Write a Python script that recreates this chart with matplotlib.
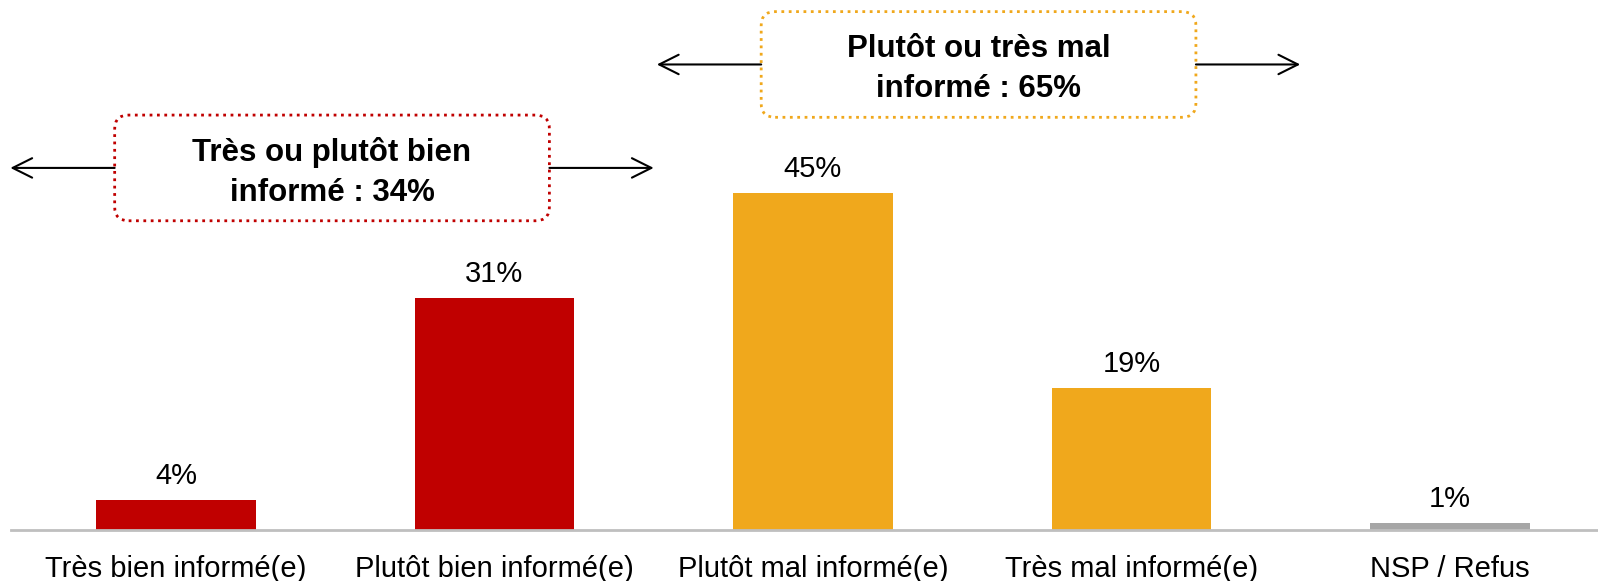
import matplotlib
matplotlib.use('Agg')
import matplotlib.pyplot as plt
from matplotlib.patches import FancyBboxPatch

plt.rcParams['font.family'] = ['Liberation Sans', 'DejaVu Sans']

categories = ['Très bien informé(e)', 'Plutôt bien informé(e)', 'Plutôt mal informé(e)',
              'Très mal informé(e)', 'NSP / Refus']
values = [4, 31, 45, 19, 1]
bar_colors = ['#C00000', '#C00000', '#F0A81C', '#F0A81C', '#A6A6A6']

group_labels = ['Très ou plutôt bien\ninformé : 34%', 'Plutôt ou très mal\ninformé : 65%']
group_spans = [(-0.52, 1.5), (1.51, 3.53)]
group_levels = [48.3, 62.1]
group_colors = ['#C00000', '#F0A81C']

fig = plt.figure(figsize=(15.98, 5.81), dpi=100)
ax = fig.add_axes([11 / 1598, 51 / 581, 1 - 11 / 1598, 530 / 581])

x = list(range(len(categories)))
ax.bar(x, values, width=0.5, color=bar_colors)

for xi, v in zip(x, values):
    ax.annotate(f'{v}%', (xi, v), textcoords='offset points', xytext=(0, 17),
                ha='center', va='center', fontsize=21)

ax.set_xlim(-0.518, 4.465)
ax.set_ylim(0, 70.7)
ax.set_xticks(x)
ax.set_xticklabels(categories, fontsize=21)
ax.tick_params(axis='x', length=0, pad=18)
ax.set_yticks([])
for side in ['top', 'right', 'left']:
    ax.spines[side].set_visible(False)
ax.spines['bottom'].set_color('#BFBFBF')
ax.spines['bottom'].set_linewidth(2)

# pixel sizes of data units, to keep round corners round
px_x = 318.5
px_y = 7.5
box_w = 1.365
box_h = 14.1

arrow = dict(arrowstyle='->,head_length=0.7,head_width=0.35', lw=1.5, color='black',
             shrinkA=0, shrinkB=0, mutation_scale=20)

for label, (x0, x1), level, col in zip(group_labels, group_spans, group_levels, group_colors):
    cx = (x0 + x1) / 2
    left = cx - box_w / 2
    right = cx + box_w / 2
    box = FancyBboxPatch((left, level - box_h / 2), box_w, box_h,
                         boxstyle=f'round,pad=0,rounding_size={14 / px_x}',
                         mutation_aspect=px_x / px_y,
                         facecolor='white', edgecolor=col, linestyle=':', linewidth=2,
                         clip_on=False, zorder=3)
    ax.add_patch(box)
    ax.text(cx, level - 0.6, label, ha='center', va='center', fontsize=22.5,
            fontweight='bold', linespacing=1.4, zorder=4)
    ax.annotate('', xy=(x0, level), xytext=(left, level), arrowprops=arrow,
                annotation_clip=False)
    ax.annotate('', xy=(x1, level), xytext=(right, level), arrowprops=arrow,
                annotation_clip=False)

fig.savefig('out.png', dpi=100, facecolor='white')
